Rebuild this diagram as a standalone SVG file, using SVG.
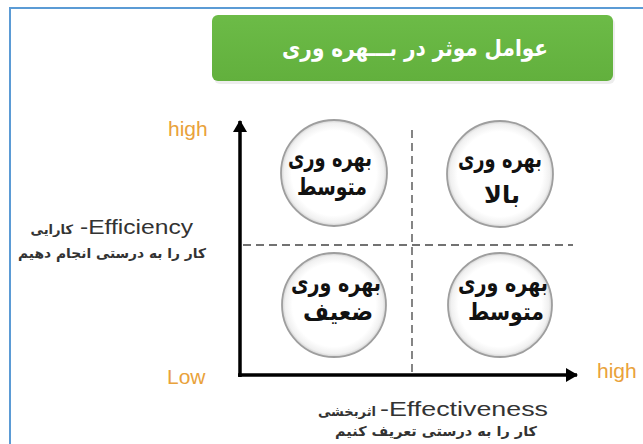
<svg xmlns="http://www.w3.org/2000/svg" width="643" height="444" viewBox="0 0 643 444">
<defs>
<radialGradient id="cg" cx="50%" cy="50%" r="50%">
<stop offset="0.8" stop-color="#ffffff"/>
<stop offset="0.94" stop-color="#f0f0f0"/>
<stop offset="1" stop-color="#d0d0d0"/>
</radialGradient>
<linearGradient id="gg" x1="0" y1="0" x2="0" y2="1">
<stop offset="0" stop-color="#6cbb47"/>
<stop offset="1" stop-color="#62b03d"/>
</linearGradient>
<marker id="ah" viewBox="0 0 12 14" refX="11" refY="7" markerWidth="12" markerHeight="14" markerUnits="userSpaceOnUse" orient="auto">
<path d="M0,0 L12,7 L0,14 Z" fill="#000"/>
</marker>
</defs>
<style>
.circ{fill:url(#cg);stroke:#9e9e9e;stroke-width:1.8}
.ct{font-family:"DejaVu Sans",sans-serif;font-weight:bold;font-size:24px;fill:#111;text-anchor:middle}
.lab{font-family:"Liberation Sans",Arial,sans-serif;font-size:21px;fill:#E9A23B}
.eng{font-family:"Liberation Sans",Arial,sans-serif;font-size:20px;fill:#333}
.fa{font-family:"DejaVu Sans",sans-serif;font-weight:bold;fill:#333}
.dash{stroke:#444;stroke-width:1.3;stroke-dasharray:8 5;fill:none}
.axis{stroke:#000;stroke-width:3.5;fill:none}
</style>
<rect width="643" height="444" fill="#fff"/>
<path d="M10,444 V8 H643" fill="none" stroke="#5b9bd5" stroke-width="2"/>

<g id="title">
<rect x="214" y="18" width="401" height="66" rx="6" fill="#e6e6e6" opacity="0.7"/>
<rect x="212" y="15" width="401" height="66" rx="6" fill="url(#gg)"/>
<text x="415" y="56" font-family="DejaVu Sans, sans-serif" font-weight="bold" font-size="23" fill="#fff" text-anchor="middle" direction="rtl" textLength="266" lengthAdjust="spacingAndGlyphs">عوامل موثر در بـــهره وری</text>
</g>

<g id="connectors">
<line class="dash" x1="412" y1="130" x2="412" y2="373"/>
<line class="dash" x1="243" y1="245" x2="573" y2="245"/>
<line class="axis" x1="240" y1="377" x2="240" y2="121" marker-end="url(#ah)"/>
<line class="axis" x1="238" y1="375" x2="577" y2="375" marker-end="url(#ah)"/>
</g>

<g id="node-tl">
<circle class="circ" cx="334" cy="173" r="53"/>
<text class="ct" x="330" y="166" direction="rtl" textLength="84" lengthAdjust="spacingAndGlyphs">بهره وری</text>
<text class="ct" x="332" y="195" direction="rtl" textLength="70" lengthAdjust="spacingAndGlyphs">متوسط</text>
</g>
<g id="node-tr">
<circle class="circ" cx="500" cy="174" r="53"/>
<text class="ct" x="500" y="167" direction="rtl" textLength="84" lengthAdjust="spacingAndGlyphs">بهره وری</text>
<text class="ct" x="502" y="203" direction="rtl">بالا</text>
</g>
<g id="node-bl">
<circle class="circ" cx="334" cy="305" r="52"/>
<text class="ct" x="336" y="291" direction="rtl" textLength="90" lengthAdjust="spacingAndGlyphs">بهره وری</text>
<text class="ct" x="338" y="320" direction="rtl" textLength="70" lengthAdjust="spacingAndGlyphs">ضعیف</text>
</g>
<g id="node-br">
<circle class="circ" cx="500" cy="305" r="52"/>
<text class="ct" x="503" y="291" direction="rtl" textLength="90" lengthAdjust="spacingAndGlyphs">بهره وری</text>
<text class="ct" x="506" y="320" direction="rtl" textLength="76" lengthAdjust="spacingAndGlyphs">متوسط</text>
</g>

<g id="labels">
<text class="lab" x="168" y="136">high</text>
<text class="lab" x="167" y="384">Low</text>
<text class="lab" x="597" y="378">high</text>
<text class="eng" x="80" y="234" textLength="113" lengthAdjust="spacingAndGlyphs">-Efficiency</text>
<text class="fa" x="73" y="234" font-size="13" text-anchor="start" direction="rtl">کارایی</text>
<text class="fa" x="206" y="258" font-size="13.5" text-anchor="start" direction="rtl" textLength="188" lengthAdjust="spacingAndGlyphs">کار را به درستی انجام دهیم</text>
<text class="eng" x="380" y="416" textLength="168" lengthAdjust="spacingAndGlyphs">-Effectiveness</text>
<text class="fa" x="376" y="416" font-size="13" text-anchor="start" direction="rtl">اثربخشی</text>
<text class="fa" x="537" y="436" font-size="13.5" text-anchor="start" direction="rtl" textLength="202" lengthAdjust="spacingAndGlyphs">کار را به درستی تعریف کنیم</text>
</g>
</svg>
